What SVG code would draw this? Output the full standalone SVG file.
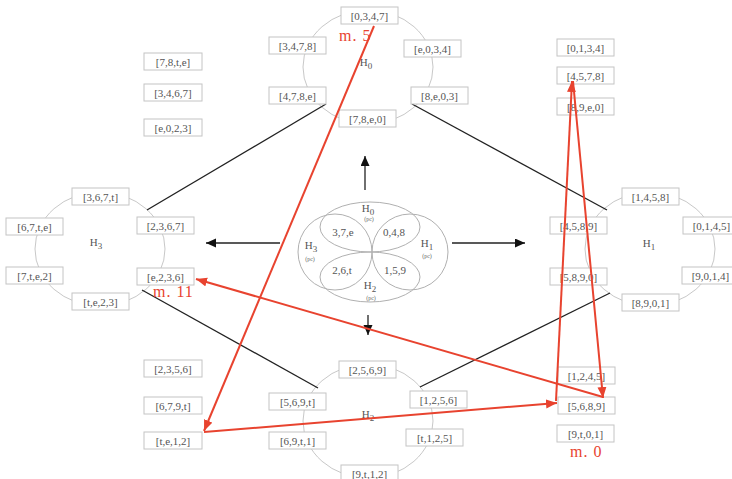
<svg xmlns="http://www.w3.org/2000/svg" width="732" height="479" viewBox="0 0 732 479">
<defs>
<style>
.bx rect{fill:#fff;stroke:#c4c4c4;stroke-width:1}
.bx text,.lab{font-family:"Liberation Serif","Times New Roman",serif;font-size:11px;fill:#555;text-anchor:middle}
.ring{fill:none;stroke:#c8c8c8;stroke-width:1}
.venn{fill:none;stroke:#b0b0b0;stroke-width:1}
.vt{font-family:"Liberation Serif","Times New Roman",serif;font-size:11px;fill:#555;text-anchor:middle}
.pc{font-family:"Liberation Serif","Times New Roman",serif;font-size:6px;fill:#666;text-anchor:middle}
.blk{stroke:#222;stroke-width:1.3;fill:none}
.red{stroke:#e8432f;stroke-width:2;fill:none;marker-end:url(#ra)}
.m{font-family:"Liberation Serif","Times New Roman",serif;font-size:16px;fill:#e8432f;letter-spacing:1px}
</style>
<marker id="ra" markerWidth="12" markerHeight="10" refX="11" refY="4.5" orient="auto" markerUnits="userSpaceOnUse"><path d="M0,0 L11,4.5 L0,9 z" fill="#e8432f"/></marker>
<marker id="ba" markerWidth="11" markerHeight="10" refX="10" refY="4.5" orient="auto" markerUnits="userSpaceOnUse"><path d="M0,0 L10,4.5 L0,9 z" fill="#111"/></marker>
</defs>
<rect width="732" height="479" fill="#fff"/>

<!-- rings -->
<g id="rings">
<ellipse class="ring" cx="368" cy="67" rx="65" ry="57"/>
<ellipse class="ring" cx="100" cy="249" rx="65" ry="57"/>
<ellipse class="ring" cx="650" cy="249" rx="65" ry="57"/>
<ellipse class="ring" cx="368" cy="421" rx="65" ry="57"/>
</g>

<g id="connectors">
<line class="blk" x1="326" y1="104" x2="147" y2="210"/>
<line class="blk" x1="412" y1="104" x2="607" y2="210"/>
<line class="blk" x1="142" y1="290" x2="318" y2="388"/>
<line class="blk" x1="610" y1="293" x2="420" y2="387"/>
<line class="blk" x1="365" y1="190" x2="365" y2="156" marker-end="url(#ba)"/>
<line class="blk" x1="280" y1="243" x2="206" y2="243" marker-end="url(#ba)"/>
<line class="blk" x1="452" y1="243" x2="525" y2="243" marker-end="url(#ba)"/>
<line class="blk" x1="368" y1="315" x2="368" y2="335" marker-end="url(#ba)"/>
</g>

<g id="H0">
<g class="bx"><rect x="341" y="7" width="57" height="17"/><text x="369.5" y="19.5">[0,3,4,7]</text></g>
<g class="bx"><rect x="269" y="37" width="57" height="17"/><text x="297.5" y="49.5">[3,4,7,8]</text></g>
<g class="bx"><rect x="404" y="40" width="57" height="17"/><text x="432.5" y="52.5">[e,0,3,4]</text></g>
<g class="bx"><rect x="269" y="87" width="57" height="17"/><text x="297.5" y="99.5">[4,7,8,e]</text></g>
<g class="bx"><rect x="411" y="87" width="57" height="17"/><text x="439.5" y="99.5">[8,e,0,3]</text></g>
<g class="bx"><rect x="339" y="110" width="57" height="17"/><text x="367.5" y="122.5">[7,8,e,0]</text></g>
<text class="lab" x="366" y="66">H<tspan font-size="9" dy="3">0</tspan></text>
</g>

<g id="H3">
<g class="bx"><rect x="72" y="188" width="57" height="17"/><text x="100.5" y="200.5">[3,6,7,t]</text></g>
<g class="bx"><rect x="6" y="218" width="57" height="17"/><text x="34.5" y="230.5">[6,7,t,e]</text></g>
<g class="bx"><rect x="137" y="217" width="57" height="17"/><text x="165.5" y="229.5">[2,3,6,7]</text></g>
<g class="bx"><rect x="6" y="267" width="57" height="17"/><text x="34.5" y="279.5">[7,t,e,2]</text></g>
<g class="bx"><rect x="137" y="268" width="57" height="17"/><text x="165.5" y="280.5">[e,2,3,6]</text></g>
<g class="bx"><rect x="72" y="293" width="57" height="17"/><text x="100.5" y="305.5">[t,e,2,3]</text></g>
<text class="lab" x="96" y="246">H<tspan font-size="9" dy="3">3</tspan></text>
</g>

<g id="H1">
<g class="bx"><rect x="622" y="188" width="57" height="17"/><text x="650.5" y="200.5">[1,4,5,8]</text></g>
<g class="bx"><rect x="550" y="217" width="57" height="17"/><text x="578.5" y="229.5">[4,5,8,9]</text></g>
<g class="bx"><rect x="683" y="217" width="57" height="17"/><text x="711.5" y="229.5">[0,1,4,5]</text></g>
<g class="bx"><rect x="550" y="268" width="57" height="17"/><text x="578.5" y="280.5">[5,8,9,0]</text></g>
<g class="bx"><rect x="682" y="267" width="57" height="17"/><text x="710.5" y="279.5">[9,0,1,4]</text></g>
<g class="bx"><rect x="622" y="294" width="57" height="17"/><text x="650.5" y="306.5">[8,9,0,1]</text></g>
<text class="lab" x="649" y="247">H<tspan font-size="9" dy="3">1</tspan></text>
</g>

<g id="H2">
<g class="bx"><rect x="339" y="361" width="57" height="17"/><text x="367.5" y="373.5">[2,5,6,9]</text></g>
<g class="bx"><rect x="269" y="393" width="57" height="17"/><text x="297.5" y="405.5">[5,6,9,t]</text></g>
<g class="bx"><rect x="410" y="391" width="57" height="17"/><text x="438.5" y="403.5">[1,2,5,6]</text></g>
<g class="bx"><rect x="269" y="432" width="57" height="17"/><text x="297.5" y="444.5">[6,9,t,1]</text></g>
<g class="bx"><rect x="406" y="429" width="57" height="17"/><text x="434.5" y="441.5">[t,1,2,5]</text></g>
<g class="bx"><rect x="341" y="465" width="57" height="17"/><text x="369.5" y="477.5">[9,t,1,2]</text></g>
<text class="lab" x="368" y="418">H<tspan font-size="9" dy="3">2</tspan></text>
</g>

<g id="left-column">
<g class="bx"><rect x="144" y="53" width="58" height="17"/><text x="173" y="65.5">[7,8,t,e]</text></g>
<g class="bx"><rect x="144" y="84" width="58" height="17"/><text x="173" y="96.5">[3,4,6,7]</text></g>
<g class="bx"><rect x="144" y="119" width="58" height="17"/><text x="173" y="131.5">[e,0,2,3]</text></g>
<g class="bx"><rect x="144" y="360" width="58" height="17"/><text x="173" y="372.5">[2,3,5,6]</text></g>
<g class="bx"><rect x="144" y="397" width="58" height="17"/><text x="173" y="409.5">[6,7,9,t]</text></g>
<g class="bx"><rect x="144" y="432" width="58" height="17"/><text x="173" y="444.5">[t,e,1,2]</text></g>
</g>

<g id="right-column">
<g class="bx"><rect x="557" y="39" width="57" height="17"/><text x="585.5" y="51.5">[0,1,3,4]</text></g>
<g class="bx"><rect x="557" y="67" width="57" height="17"/><text x="585.5" y="79.5">[4,5,7,8]</text></g>
<g class="bx"><rect x="557" y="98" width="57" height="17"/><text x="585.5" y="110.5">[8,9,e,0]</text></g>
<g class="bx"><rect x="558" y="367" width="57" height="17"/><text x="586.5" y="379.5">[1,2,4,5]</text></g>
<g class="bx"><rect x="558" y="397" width="57" height="17"/><text x="586.5" y="409.5">[5,6,8,9]</text></g>
<g class="bx"><rect x="557" y="425" width="57" height="17"/><text x="585.5" y="437.5">[9,t,0,1]</text></g>
</g>

<g id="venn">
<ellipse class="venn" cx="370" cy="227" rx="50" ry="25"/>
<ellipse class="venn" cx="370" cy="277" rx="50" ry="25"/>
<ellipse class="venn" cx="335" cy="252" rx="37" ry="38"/>
<ellipse class="venn" cx="410" cy="252" rx="38" ry="38"/>
<text class="vt" x="368" y="212">H<tspan font-size="9" dy="3">0</tspan></text>
<text class="pc" x="369" y="221">(pc)</text>
<text class="vt" x="343" y="236">3,7,e</text>
<text class="vt" x="394" y="236">0,4,8</text>
<text class="vt" x="311" y="249">H<tspan font-size="9" dy="3">3</tspan></text>
<text class="pc" x="310" y="261">(pc)</text>
<text class="vt" x="427" y="247">H<tspan font-size="9" dy="3">1</tspan></text>
<text class="pc" x="427" y="258">(pc)</text>
<text class="vt" x="342" y="274">2,6,t</text>
<text class="vt" x="395" y="274">1,5,9</text>
<text class="vt" x="370" y="289">H<tspan font-size="9" dy="3">2</tspan></text>
<text class="pc" x="371" y="300">(pc)</text>
</g>

<g id="moves">
<line class="red" x1="374" y1="26" x2="204" y2="431"/>
<line class="red" x1="204" y1="432" x2="557" y2="403"/>
<line class="red" x1="556" y1="401" x2="572" y2="81"/>
<line class="red" x1="573" y1="81" x2="603" y2="398"/>
<line class="red" x1="603" y1="397" x2="196" y2="279"/>
<text class="m" x="339" y="41">m. 5</text>
<text class="m" x="153" y="297">m. 11</text>
<text class="m" x="570" y="457">m. 0</text>
</g>
</svg>
